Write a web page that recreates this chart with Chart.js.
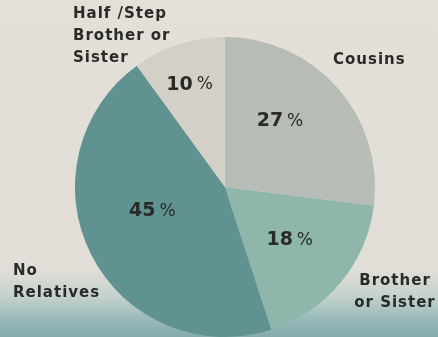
<!DOCTYPE html>
<html>
<head>
<meta charset="utf-8">
<script src="https://cdn.jsdelivr.net/npm/chart.js@4"></script>
<style>
  html, body { margin: 0; padding: 0; }
  body {
    width: 438px; height: 337px; overflow: hidden;
    background: linear-gradient(to bottom, #e4e0d8 0%, #e0ded6 80%, #c4d2cd 88%, #9dbcbc 94%, #83abad 100%);
  }
  #pieChart { display: block; }
</style>
</head>
<body>
<canvas id="pieChart" width="438" height="337"></canvas>
<script>
const categories = ['Cousins', 'Brother or Sister', 'No Relatives', 'Half /Step Brother or Sister']
const shares = [27, 18, 45, 10]
const sliceColors = ['#b8bcb6', '#8fb6ab', '#5f9290', '#d3d0c7']

// outside labels, one entry per line
const outerLabels = [
  { lines: ['Cousins'], x: 333, y: 60, align: 'left' },
  { lines: ['Brother', 'or Sister'], x: 395, y: 281, align: 'center' },
  { lines: ['No', 'Relatives'], x: 13, y: 271, align: 'left' },
  { lines: ['Half /Step', 'Brother or', 'Sister'], x: 73, y: 14, align: 'left' }
]
// how far out (fraction of radius) and angle nudge for the % labels
const pctRadius = [0.57, 0.56, 0.51, 0.72]
const pctNudge = [-0.15, 0, 0.15, -0.02]

const textColor = '#2a2b28'

const labelPlugin = {
  id: 'sliceLabels',
  afterDraw(chart) {
    const ctx = chart.ctx
    const arcs = chart.getDatasetMeta(0).data
    ctx.save()
    ctx.fillStyle = textColor
    ctx.textBaseline = 'middle'
    arcs.forEach((arc, i) => {
      const p = arc.getProps(['x', 'y', 'startAngle', 'endAngle', 'outerRadius'], true)
      const mid = (p.startAngle + p.endAngle) / 2 + pctNudge[i]
      const r = p.outerRadius * pctRadius[i]
      const cx = p.x + Math.cos(mid) * r
      const cy = p.y + Math.sin(mid) * r
      ctx.letterSpacing = '0px'
      const num = String(shares[i])
      ctx.font = 'bold 19px "DejaVu Sans"'
      const nw = ctx.measureText(num).width
      ctx.font = '17px "DejaVu Sans"'
      const pw = ctx.measureText('%').width
      const total = nw + 4 + pw
      ctx.textAlign = 'left'
      ctx.font = 'bold 19px "DejaVu Sans"'
      ctx.fillText(num, cx - total / 2, cy)
      ctx.font = '17px "DejaVu Sans"'
      ctx.fillText('%', cx - total / 2 + nw + 4, cy)
    })
    ctx.font = 'bold 15px "DejaVu Sans"'
    ctx.letterSpacing = '1px'
    outerLabels.forEach(l => {
      ctx.textAlign = l.align
      l.lines.forEach((t, j) => ctx.fillText(t, l.x, l.y + j * 22))
    })
    ctx.restore()
  }
}

const ctx = document.getElementById('pieChart').getContext('2d')
const pieChart = new Chart(ctx, {
  type: 'pie',
  data: {
    labels: categories,
    datasets: [{
      data: shares,
      backgroundColor: sliceColors,
      borderWidth: 0
    }]
  },
  options: {
    responsive: false,
    animation: false,
    layout: { padding: { top: 37, left: 12, right: 0, bottom: 0 } },
    plugins: {
      legend: { display: false },
      tooltip: { enabled: false }
    }
  },
  plugins: [labelPlugin]
})
</script>
</body>
</html>
